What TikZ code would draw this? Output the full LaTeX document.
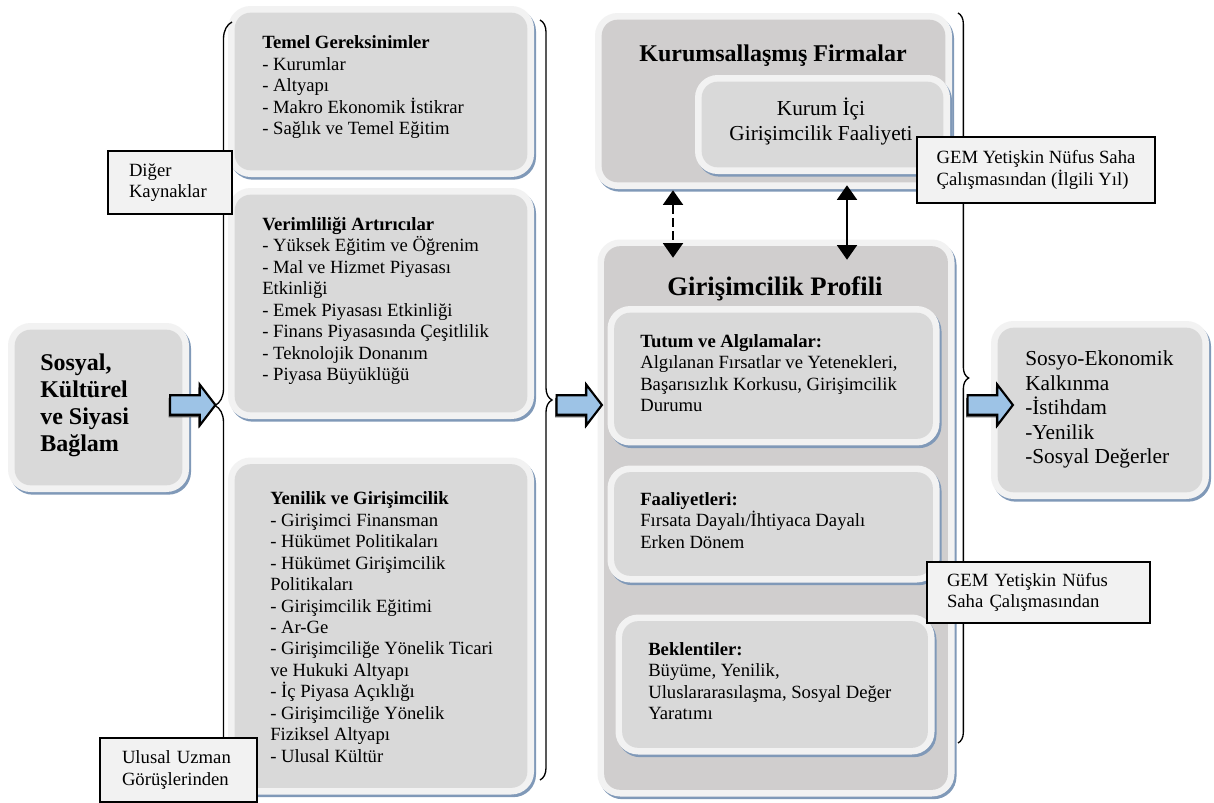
\documentclass[tikz,border=0pt]{standalone}
\usepackage{fontspec}
\setmainfont{Liberation Serif}
\usepackage{tikz}
\usetikzlibrary{arrows.meta,calc,shadows,shapes.arrows,decorations.pathreplacing,positioning}
\definecolor{rimgray}{RGB}{242,242,242}
\definecolor{boxgray}{RGB}{217,217,217}
\definecolor{outergray}{RGB}{208,206,206}
\definecolor{shadowblue}{RGB}{128,153,184}
\definecolor{flowblue}{RGB}{157,195,230}
\newcommand{\fs}{\fontsize{14}{16.1}\selectfont}
\newcommand{\fm}{\fontsize{16}{18.4}\selectfont}

\begin{document}
\begin{tikzpicture}[x=0.75pt,y=-0.75pt,
  panel/.style={rounded corners=17pt, fill=rimgray, inner sep=0pt,
    drop shadow={shadow xshift=1.5pt, shadow yshift=-2pt, fill=shadowblue, opacity=1},
    path picture={\fill[#1, rounded corners=12pt]
      ($(path picture bounding box.south west)+(5pt,5pt)$) rectangle
      ($(path picture bounding box.north east)+(-5pt,-5pt)$);}},
  panel/.default=boxgray,
  body/.style={anchor=north west, align=left, inner sep=0pt, font=\fs},
  note/.style={draw, line width=1.1pt, fill=rimgray, align=left, font=\fs, inner ysep=0pt},
  ok/.style={single arrow, draw, line width=1.6pt, fill=flowblue, minimum height=34pt,
    single arrow head extend=8pt, single arrow tip angle=105, inner xsep=0pt, inner ysep=6.5pt,
    drop shadow={shadow xshift=-1pt, shadow yshift=-2pt, fill=black!65, opacity=1}},
  curly/.style={decorate, decoration={brace, amplitude=#1}, line width=1pt},
  link/.style={{Triangle[width=15pt,length=11pt]}-{Triangle[width=15pt,length=11pt]}, line width=1.5pt}]
  \useasboundingbox (0,0) rectangle (1214,803);
  \fill[white] (0,0) rectangle (1214,803);

  % context
  \node[panel, minimum width=135.75pt, minimum height=126.75pt] (sosyal) at (98.5,407.5) {};
  \node[body, font=\fontsize{18}{20.25}\selectfont\bfseries] (sosyal-t) at (40,353.5)
    {Sosyal,\\Kültürel\\ve Siyasi\\Bağlam};

  % framework conditions
  \node[panel, minimum width=229.5pt, minimum height=128.25pt] (temel) at (381,91.5) {};
  \node[body] (temel-t) at (262,35.5)
    {\textbf{Temel Gereksinimler}\\- Kurumlar\\- Altyapı\\- Makro Ekonomik İstikrar\\- Sağlık ve Temel Eğitim};
  \node[panel, minimum width=229.5pt, minimum height=173.25pt] (verim) at (381,303.5) {};
  \node[body] (verim-t) at (262,217)
    {\textbf{Verimliliği Artırıcılar}\\- Yüksek Eğitim ve Öğrenim\\- Mal ve Hizmet Piyasası\\Etkinliği\\- Emek Piyasası Etkinliği\\- Finans Piyasasında Çeşitlilik\\- Teknolojik Donanım\\- Piyasa Büyüklüğü};
  \node[panel, minimum width=229.5pt, minimum height=252.75pt] (yenilik) at (381,626) {};
  \node[body] (yenilik-t) at (270,491.5)
    {\textbf{Yenilik ve Girişimcilik}\\- Girişimci Finansman\\- Hükümet Politikaları\\- Hükümet Girişimcilik\\Politikaları\\- Girişimcilik Eğitimi\\- Ar-Ge\\- Girişimciliğe Yönelik Ticari\\ve Hukuki Altyapı\\- İç Piyasa Açıklığı\\- Girişimciliğe Yönelik\\Fiziksel Altyapı\\- Ulusal Kültür};

  % established firms
  \node[panel=outergray, minimum width=267.75pt, minimum height=132pt] (kurumsal) at (773.5,101) {};
  \node[anchor=base, inner sep=0pt, font=\fontsize{18}{20}\selectfont\bfseries] (kurumsal-t) at (773,61.5)
    {Kurumsallaşmış Firmalar};
  \node[panel, minimum width=191.25pt, minimum height=74.25pt] (kurumici) at (822.5,124.5) {};
  \node[anchor=north, align=center, inner sep=0pt, font=\fontsize{16}{18.75}\selectfont] (kurumici-t) at (821,98)
    {Kurum İçi\\Girişimcilik Faaliyeti};

  % entrepreneurial profile
  \node[panel=outergray, minimum width=267.75pt, minimum height=417.75pt] (profil) at (776,518) {};
  \node[anchor=base, inner sep=0pt, font=\fontsize{20}{22}\selectfont\bfseries] (profil-t) at (775,295)
    {Girişimcilik Profili};
  \node[panel, minimum width=249pt, minimum height=104.6pt] (tutum) at (773.5,375.75) {};
  \node[body] (tutum-t) at (640,334)
    {\textbf{Tutum ve Algılamalar:}\\Algılanan Fırsatlar ve Yetenekleri,\\Başarısızlık Korkusu, Girişimcilik\\Durumu};
  \node[panel, minimum width=249pt, minimum height=87.75pt] (faal) at (773.5,524) {};
  \node[body] (faal-t) at (640,492)
    {\textbf{Faaliyetleri:}\\Fırsata Dayalı/İhtiyaca Dayalı\\Erken Dönem};
  \node[panel, minimum width=239.25pt, minimum height=105pt] (bekl) at (775,684.5) {};
  \node[body] (bekl-t) at (648,642)
    {\textbf{Beklentiler:}\\Büyüme, Yenilik,\\Uluslararasılaşma, Sosyal Değer\\Yaratımı};

  % outcome
  \node[panel, minimum width=163.5pt, minimum height=133.5pt] (sosyo) at (1100,410) {};
  \node[body, font=\fm] (sosyo-t) at (1025,350.5)
    {Sosyo-Ekonomik\\Kalkınma\\-İstihdam\\-Yenilik\\-Sosyal Değerler};

  % braces
  \draw[curly=12.75pt] (232,789) -- (232,22);
  \draw[curly=9pt] (540,20) -- (540,780);
  \draw[curly=8pt] (958,13) -- (958,743);

  % flow arrows
  \node[ok] (ok1) at (189,405) {};
  \node[ok] (ok2) at (575.5,405) {};
  \node[ok] (ok3) at (986.5,405) {};

  % firms <-> profile
  \draw[link, dash pattern=on 7pt off 3pt] ($(kurumsal.south)+(-100.5,1)$) -- ($(profil.north)+(-103,18.5)$);
  \draw[link] ($(kurumsal.south)+(73.5,-4)$) -- ($(profil.north)+(71,20.5)$);

  % sources
  \node[note, minimum height=47.25pt, inner xsep=15.75pt, text width=61.5pt] (diger) at (170,182.5)
    {Diğer\\Kaynaklar};
  \node[note, minimum height=49.5pt, minimum width=178.5pt, inner xsep=0pt] (gemust) at (1036,170)
    {GEM Yetişkin Nüfus Saha\\Çalışmasından (İlgili Yıl)};
  \node[note, minimum height=45.75pt, inner xsep=15pt, text width=137.25pt] (gemalt) at (1038.5,592.5)
    {GEM Yetişkin Nüfus\\Saha Çalışmasından};
  \node[note, minimum height=48pt, inner xsep=16.5pt, text width=84.75pt] (ulusal) at (178.5,770)
    {Ulusal Uzman\\Görüşlerinden};
\end{tikzpicture}
\end{document}
